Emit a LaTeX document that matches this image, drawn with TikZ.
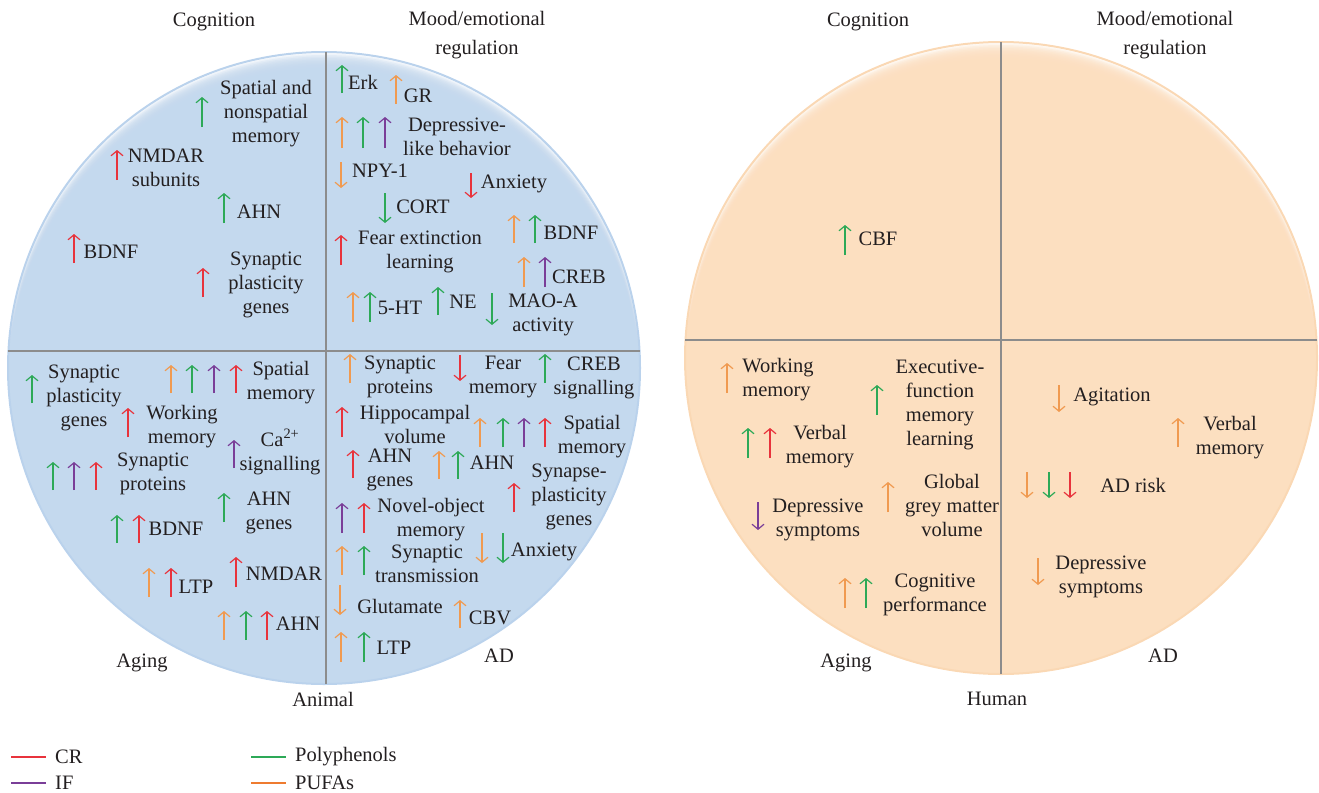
\documentclass[tikz,border=0pt]{standalone}
\usepackage{fontspec}
\setmainfont{Liberation Serif}
\usetikzlibrary{arrows.meta}
\definecolor{bluefill}{HTML}{C4D9EE}
\definecolor{bluerim}{HTML}{BAD2EC}
\definecolor{peachfill}{HTML}{FCDFC0}
\definecolor{peachrim}{HTML}{FAD8B4}
\definecolor{divgray}{HTML}{8C8C8C}
\definecolor{cCR}{HTML}{E8333C}
\definecolor{cIF}{HTML}{7A3E98}
\definecolor{cPP}{HTML}{2DA957}
\definecolor{cPU}{HTML}{F09A50}
\definecolor{lgPU}{HTML}{EE7B30}
\definecolor{txt}{HTML}{231F20}
\newcommand\myup[4]{\draw[arr,#1] (#2,#4) -- (#2,#3);}
\newcommand\mydn[4]{\draw[arr,#1] (#2,#3) -- (#2,#4);}
% glowing disc: #1 centre x, #2 centre y, #3 fill colour, #4 rim colour
\newcommand\glowdisc[4]{%
  \begin{scope}
    \clip (#1,#2) circle[radius=316pt];
    \fill[white] (#1,#2) circle[radius=316pt];
    \foreach \k in {1,...,12}
      \fill[#3, opacity=0.27] (#1,#2+1.5*\k) circle[radius=316pt];
    \fill[#3] (#1,#2+19.5) circle[radius=316pt];
  \end{scope}
  \draw[#4, line width=2pt] (#1,#2) circle[radius=316pt];
}
\begin{document}
\begin{tikzpicture}[x=1pt,y=-1pt,
  lbl/.style={font=\fontsize{20.5}{24}\selectfont, text=txt, align=center, inner sep=0pt},
  arr/.style={-{Straight Barb[length=5pt,width=12pt]}, line width=1.2pt},
  divline/.style={divgray, line width=1.3pt},
  legline/.style={line width=1.5pt}]
\useasboundingbox (0,0) rectangle (1319,792);

% ---------- Animal circle ----------
\glowdisc{324}{368}{bluefill}{bluerim}
\draw[divline] (326,52) -- (326,684);
\draw[divline] (8,351) -- (640,351);

% ---------- Human circle ----------
\glowdisc{1001}{358}{peachfill}{peachrim}
\draw[divline] (1001,42) -- (1001,674);
\draw[divline] (685,340) -- (1317,340);

% ---------- outer labels ----------
\node[lbl] (cogA) at (214,22) {Cognition};
\node[lbl] (moodA) at (477,35) {Mood/emotional\\[5pt]regulation};
\node[lbl] (agingA) at (142,663) {Aging};
\node[lbl] (adA) at (499,656) {AD};
\node[lbl] (animal) at (323,699) {Animal};
\node[lbl] (cogH) at (868,22) {Cognition};
\node[lbl] (moodH) at (1165,35) {Mood/emotional\\[5pt]regulation};
\node[lbl] (agingH) at (846,663) {Aging};
\node[lbl] (adH) at (1163,656) {AD};
\node[lbl] (human) at (997,699) {Human};

% ---------- Animal: cognition ----------
\node[lbl] (a1) at (266,114) {Spatial and\\nonspatial\\memory};
\myup{cPP}{202}{97}{127}
\node[lbl] (a2) at (166,168) {NMDAR\\subunits};
\myup{cCR}{117}{150}{180}
\node[lbl] (a3) at (259,212) {AHN};
\myup{cPP}{224}{193}{223}
\node[lbl] (a4) at (111,252) {BDNF};
\myup{cCR}{74}{234}{263}
\node[lbl] (a5) at (266,285) {Synaptic\\plasticity\\genes};
\myup{cCR}{203}{268}{297}

% ---------- Animal: mood ----------
\node[lbl] (b1) at (363,82) {Erk};
\myup{cPP}{342}{65}{93}
\node[lbl] (b2) at (418,96) {GR};
\myup{cPU}{396}{75}{104}
\node[lbl] (b3) at (457,137) {Depressive-\\like behavior};
\myup{cPU}{342}{117}{148}
\myup{cPP}{363}{117}{148}
\myup{cIF}{385}{117}{148}
\node[lbl] (b4) at (380,171) {NPY-1};
\mydn{cPU}{341}{162}{188}
\node[lbl] (b5) at (514,184) {Anxiety};
\mydn{cCR}{471}{173}{198}
\node[lbl] (b6) at (423,207) {CORT};
\mydn{cPP}{385}{193}{223}
\node[lbl] (b7) at (420,252) {Fear extinction\\learning};
\myup{cCR}{341}{235}{265}
\node[lbl] (b8) at (571,233) {BDNF};
\myup{cPU}{514}{215}{243}
\myup{cPP}{535}{215}{243}
\node[lbl] (b9) at (579,277) {CREB};
\myup{cPU}{524}{257}{287}
\myup{cIF}{545}{257}{287}
\node[lbl] (b10) at (400,308) {5-HT};
\myup{cPU}{353}{292}{322}
\myup{cPP}{370}{292}{322}
\node[lbl] (b11) at (463,302) {NE};
\myup{cPP}{438}{287}{315}
\node[lbl] (b12) at (543,315) {MAO-A\\activity};
\mydn{cPP}{492}{293}{325}

% ---------- Animal: aging ----------
\node[lbl] (c1) at (84,398) {Synaptic\\plasticity\\genes};
\myup{cPP}{32}{375}{403}
\node[lbl] (c2) at (281,383) {Spatial\\memory};
\myup{cPU}{171}{365}{393}
\myup{cPP}{192}{365}{393}
\myup{cIF}{214}{365}{393}
\myup{cCR}{236}{365}{393}
\node[lbl] (c3) at (182,427) {Working\\memory};
\myup{cCR}{128}{408}{437}
\node[lbl] (c4) at (280,452) {Ca\textsuperscript{2+}\\signalling};
\myup{cIF}{234}{440}{468}
\node[lbl] (c5) at (153,474) {Synaptic\\proteins};
\myup{cPP}{53}{462}{490}
\myup{cIF}{74}{462}{490}
\myup{cCR}{96}{462}{490}
\node[lbl] (c6) at (269,513) {AHN\\genes};
\myup{cPP}{224}{493}{522}
\node[lbl] (c7) at (176,529) {BDNF};
\myup{cPP}{117}{515}{543}
\myup{cCR}{139}{515}{543}
\node[lbl] (c8) at (284,574) {NMDAR};
\myup{cCR}{236}{557}{587}
\node[lbl] (c9) at (196,587) {LTP};
\myup{cPU}{149}{568}{597}
\myup{cCR}{171}{568}{597}
\node[lbl] (c10) at (298,624) {AHN};
\myup{cPU}{224}{611}{640}
\myup{cPP}{246}{611}{640}
\myup{cCR}{267}{611}{640}

% ---------- Animal: AD ----------
\node[lbl] (d1) at (400,377) {Synaptic\\proteins};
\myup{cPU}{350}{354}{383}
\node[lbl] (d2) at (503,377) {Fear\\memory};
\mydn{cCR}{460}{355}{381}
\node[lbl] (d3) at (594,378) {CREB\\signalling};
\myup{cPP}{545}{354}{383}
\node[lbl] (d4) at (415,424) {Hippocampal\\volume};
\myup{cCR}{342}{407}{437}
\node[lbl] (d5) at (592,437) {Spatial\\memory};
\myup{cPU}{480}{418}{447}
\myup{cPP}{503}{418}{447}
\myup{cIF}{524}{418}{447}
\myup{cCR}{545}{418}{447}
\node[lbl] (d6) at (390,470) {AHN\\genes};
\myup{cCR}{353}{450}{478}
\node[lbl] (d7) at (492,463) {AHN};
\myup{cPU}{439}{451}{479}
\myup{cPP}{458}{451}{479}
\node[lbl] (d8) at (569,497) {Synapse-\\plasticity\\genes};
\myup{cCR}{514}{483}{512}
\node[lbl] (d9) at (431,520) {Novel-object\\memory};
\myup{cIF}{342}{503}{533}
\myup{cCR}{364}{503}{533}
\node[lbl] (d10) at (427,564) {Synaptic\\transmission};
\myup{cPU}{342}{546}{575}
\myup{cPP}{364}{546}{575}
\node[lbl] (d11) at (544,552) {Anxiety};
\mydn{cPU}{482}{533}{563}
\mydn{cPP}{503}{533}{563}
\node[lbl] (d12) at (400,606) {Glutamate};
\mydn{cPU}{340}{585}{615}
\node[lbl] (d13) at (490,618) {CBV};
\myup{cPU}{460}{600}{628}
\node[lbl] (d14) at (394,648) {LTP};
\myup{cPU}{341}{632}{662}
\myup{cPP}{364}{632}{662}

% ---------- Human ----------
\node[lbl] (h1) at (878,239) {CBF};
\myup{cPP}{845}{225}{255}
\node[lbl, align=left] (h2) at (778,380) {Working\\memory};
\myup{cPU}{727}{363}{393}
\node[lbl] (h3) at (940,405) {Executive-\\function\\memory\\learning};
\myup{cPP}{877}{385}{415}
\node[lbl] (h4) at (820,447) {Verbal\\memory};
\myup{cPP}{748}{428}{458}
\myup{cCR}{770}{428}{458}
\node[lbl] (h5) at (952,505) {Global\\grey matter\\volume};
\myup{cPU}{888}{482}{512}
\node[lbl] (h6) at (818,520) {Depressive\\symptoms};
\mydn{cIF}{758}{502}{530}
\node[lbl] (h7) at (935,595) {Cognitive\\performance};
\myup{cPU}{845}{578}{608}
\myup{cPP}{866}{578}{608}
\node[lbl] (h8) at (1112,397) {Agitation};
\mydn{cPU}{1059}{385}{412}
\node[lbl] (h9) at (1230,438) {Verbal\\memory};
\myup{cPU}{1178}{418}{447}
\node[lbl] (h10) at (1133,485) {AD risk};
\mydn{cPU}{1027}{472}{498}
\mydn{cPP}{1049}{472}{498}
\mydn{cCR}{1070}{472}{498}
\node[lbl] (h11) at (1101,577) {Depressive\\symptoms};
\mydn{cPU}{1038}{558}{585}

% ---------- legend ----------
\node[lbl, anchor=west] (lCR) at (55,757) {CR};
\node[lbl, anchor=west] (lIF) at (55,783) {IF};
\node[lbl, anchor=west] (lPP) at (295,757) {Polyphenols};
\node[lbl, anchor=west] (lPU) at (295,783) {PUFAs};
\draw[legline, cCR] (11,757) -- (46,757);
\draw[legline, cIF] (11,783) -- (46,783);
\draw[legline, cPP] (251,757) -- (286,757);
\draw[legline, lgPU] (251,783) -- (286,783);
\end{tikzpicture}
\end{document}
